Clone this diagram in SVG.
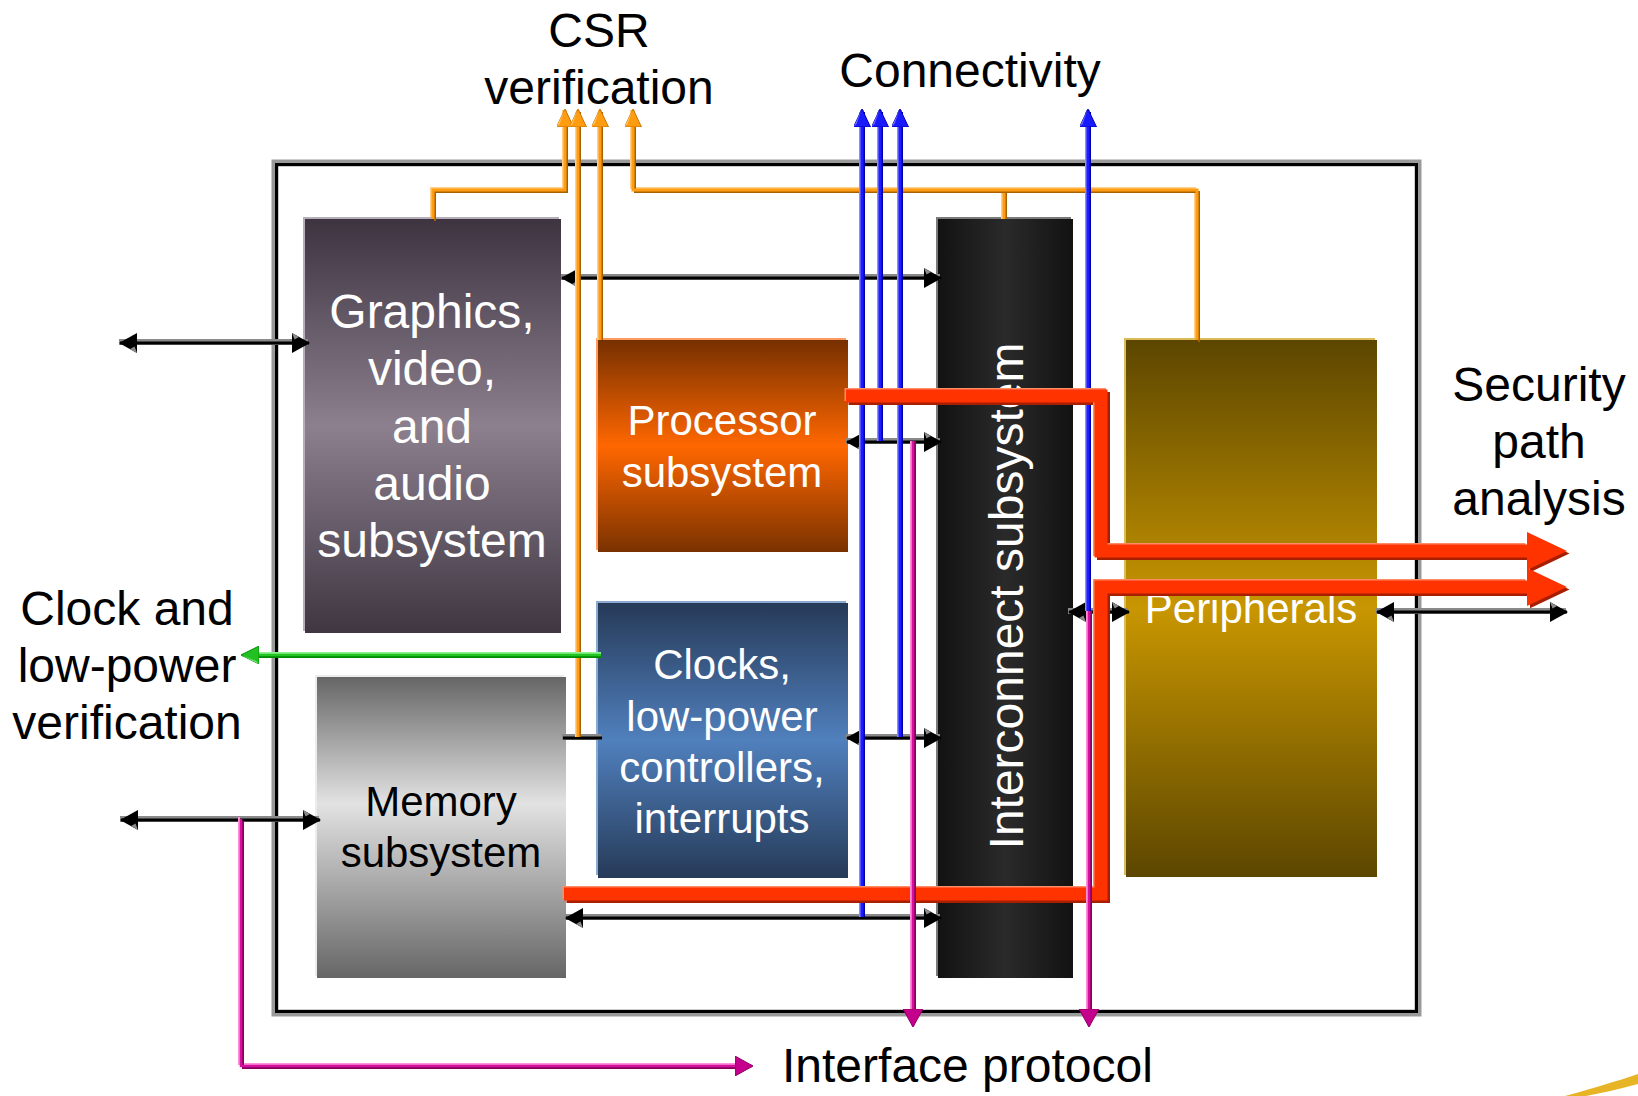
<svg xmlns="http://www.w3.org/2000/svg" width="1638" height="1096" viewBox="0 0 1638 1096">
  <style>
    .lbl { font-family: "Liberation Sans", Arial, sans-serif; font-size: 48px; fill: #000; text-anchor: middle; }
    .w48 { font-family: "Liberation Sans", Arial, sans-serif; font-size: 48px; fill: #fff; text-anchor: middle; }
    .w42 { font-family: "Liberation Sans", Arial, sans-serif; font-size: 42px; fill: #fff; text-anchor: middle; }
    .k42 { font-family: "Liberation Sans", Arial, sans-serif; font-size: 42px; fill: #000; text-anchor: middle; }
    path { fill: none; }
    .blk-a { stroke: #8a8a8a; stroke-width: 6; }
    .blk-b { stroke: #000; stroke-width: 3; }
    .org-h { stroke: #ffd08a; stroke-width: 2; }
    .org-d { stroke: #a66000; stroke-width: 2; }
    .org-m { stroke: #ff9c12; stroke-width: 3; }
    .blu-h { stroke: #8c8cff; stroke-width: 2; }
    .blu-d { stroke: #0000a8; stroke-width: 2; }
    .blu-m { stroke: #1c1cff; stroke-width: 3; }
    .pnk-h { stroke: #ff90dc; stroke-width: 2; }
    .pnk-d { stroke: #880060; stroke-width: 2; }
    .pnk-m { stroke: #d4109c; stroke-width: 2.5; }
    .grn-h { stroke: #8ef08e; stroke-width: 2; }
    .grn-d { stroke: #008a00; stroke-width: 2; }
    .grn-m { stroke: #22c422; stroke-width: 2.5; }
    .red-s { stroke: #a81e00; stroke-width: 13; stroke-linejoin: miter; }
    .red-h { stroke: #ff8a66; stroke-width: 13; stroke-linejoin: miter; }
    .red-m { stroke: #ff3300; stroke-width: 13; stroke-linejoin: miter; }
    .frame-a { fill: none; stroke: #9a9a9a; stroke-width: 7; }
    .frame-b { fill: none; stroke: #000; stroke-width: 3; }
  </style>
  <defs>
    <linearGradient id="gGraphics" x1="0" y1="0" x2="0" y2="1">
      <stop offset="0" stop-color="#3d3440"/>
      <stop offset="0.5" stop-color="#8c7f8e"/>
      <stop offset="1" stop-color="#3f3641"/>
    </linearGradient>
    <linearGradient id="gProc" x1="0" y1="0" x2="0" y2="1">
      <stop offset="0" stop-color="#763000"/>
      <stop offset="0.5" stop-color="#ff6700"/>
      <stop offset="1" stop-color="#7a3200"/>
    </linearGradient>
    <linearGradient id="gClock" x1="0" y1="0" x2="0" y2="1">
      <stop offset="0" stop-color="#263a58"/>
      <stop offset="0.5" stop-color="#5080bd"/>
      <stop offset="1" stop-color="#263a58"/>
    </linearGradient>
    <linearGradient id="gMem" x1="0" y1="0" x2="0" y2="1">
      <stop offset="0" stop-color="#666"/>
      <stop offset="0.42" stop-color="#e2e2e2"/>
      <stop offset="1" stop-color="#666"/>
    </linearGradient>
    <linearGradient id="gIc" x1="0" y1="0" x2="1" y2="0">
      <stop offset="0" stop-color="#121212"/>
      <stop offset="0.5" stop-color="#2a2a2a"/>
      <stop offset="1" stop-color="#121212"/>
    </linearGradient>
    <linearGradient id="gPer" x1="0" y1="0" x2="0" y2="1">
      <stop offset="0" stop-color="#5c4600"/>
      <stop offset="0.5" stop-color="#c89600"/>
      <stop offset="1" stop-color="#5c4600"/>
    </linearGradient>

    <marker id="mBlk" viewBox="0 0 18 20" refX="17" refY="10" markerWidth="18" markerHeight="20" markerUnits="userSpaceOnUse" orient="auto-start-reverse">
      <path d="M0,0 L18,10 L0,20 Z" style="fill:#000;stroke:none"/>
      <path d="M0,0 L7,3.9 L2.5,6.5 Z" style="fill:#8a8a8a;stroke:none"/>
    </marker>
    <marker id="mOrg" viewBox="0 0 18 17" refX="17" refY="8.5" markerWidth="18" markerHeight="17" markerUnits="userSpaceOnUse" orient="auto">
      <path d="M0,0 L18,8.5 L0,17 Z" style="fill:#ff9c10;stroke:#c87400;stroke-width:1"/>
      <path d="M0,0 L18,8.5 L3,3 Z" style="fill:#ffc868;stroke:none"/>
    </marker>
    <marker id="mBlu" viewBox="0 0 18 17" refX="17" refY="8.5" markerWidth="18" markerHeight="17" markerUnits="userSpaceOnUse" orient="auto">
      <path d="M0,0 L18,8.5 L0,17 Z" style="fill:#1a1aff;stroke:#0000b0;stroke-width:1"/>
      <path d="M0,0 L18,8.5 L3,3 Z" style="fill:#7070ff;stroke:none"/>
    </marker>
    <marker id="mPnk" viewBox="0 0 18 20" refX="17" refY="10" markerWidth="18" markerHeight="20" markerUnits="userSpaceOnUse" orient="auto">
      <path d="M0,0 L18,10 L0,20 Z" style="fill:#c4008c;stroke:#90006a;stroke-width:1"/>
    </marker>
    <marker id="mGrn" viewBox="0 0 18 18" refX="17" refY="9" markerWidth="18" markerHeight="18" markerUnits="userSpaceOnUse" orient="auto">
      <path d="M0,0 L18,9 L0,18 Z" style="fill:#22c022;stroke:#009000;stroke-width:1"/>
      <path d="M0,0 L18,9 L3,3 Z" style="fill:#80e880;stroke:none"/>
    </marker>
    <marker id="mRed" viewBox="0 0 40 38" refX="0" refY="19" markerWidth="40" markerHeight="38" markerUnits="userSpaceOnUse" orient="auto">
      <path d="M0,0 L40,19 L0,38 Z" style="fill:#ff3300;stroke:none"/>
    </marker>
    <marker id="mRedS" viewBox="0 0 40 38" refX="0" refY="19" markerWidth="40" markerHeight="38" markerUnits="userSpaceOnUse" orient="auto">
      <path d="M0,0 L40,19 L0,38 Z" style="fill:#a81e00;stroke:none"/>
    </marker>
  </defs>

  <rect width="1638" height="1096" fill="#fff"/>

  <!-- chip boundary -->
  <g id="frame">
    <rect class="frame-a" x="275" y="163" width="1143" height="850"/>
    <rect class="frame-b" x="276.5" y="164.5" width="1140" height="847"/>
  </g>

  <!-- subsystem blocks -->
  <g id="node-graphics">
    <rect x="303" y="217" width="256" height="414" fill="#b5adb7"/>
    <rect x="305" y="219" width="256" height="414" fill="url(#gGraphics)"/>
    <text class="w48" x="432" y="328">Graphics,</text>
    <text class="w48" x="432" y="385">video,</text>
    <text class="w48" x="432" y="443">and</text>
    <text class="w48" x="432" y="500">audio</text>
    <text class="w48" x="432" y="557">subsystem</text>
  </g>

  <g id="node-processor">
    <rect x="596" y="338" width="250" height="212" fill="#ff9a60"/>
    <rect x="598" y="340" width="250" height="212" fill="url(#gProc)"/>
    <text class="w42" x="722" y="435">Processor</text>
    <text class="w42" x="722" y="487">subsystem</text>
  </g>

  <g id="node-clocks">
    <rect x="596" y="601" width="250" height="274" fill="#8aaad0"/>
    <rect x="598" y="603" width="250" height="275" fill="url(#gClock)"/>
    <text class="w42" x="722" y="679">Clocks,</text>
    <text class="w42" x="722" y="731">low-power</text>
    <text class="w42" x="722" y="782">controllers,</text>
    <text class="w42" x="722" y="833">interrupts</text>
  </g>

  <g id="node-memory">
    <rect x="315" y="675" width="249" height="301" fill="#ececec"/>
    <rect x="317" y="677" width="249" height="301" fill="url(#gMem)"/>
    <text class="k42" x="441" y="816">Memory</text>
    <text class="k42" x="441" y="867">subsystem</text>
  </g>

  <g id="node-interconnect">
    <rect x="936" y="217" width="135" height="759" fill="#7a7a7a"/>
    <rect x="938" y="219" width="135" height="759" fill="url(#gIc)"/>
    <text class="w48" transform="translate(1023,596) rotate(-90)">Interconnect subsystem</text>
  </g>

  <g id="node-peripherals">
    <rect x="1124" y="338" width="251" height="537" fill="#dcbc58"/>
    <rect x="1126" y="340" width="251" height="537" fill="url(#gPer)"/>
    <text class="w42" x="1251" y="623">Peripherals</text>
  </g>

  <!-- connectors -->
  <g id="connectors">
    <!-- bus links (double-headed) -->
    <g id="bus-links">
      <path class="blk-a" d="M119,342 H308"/>
      <path class="blk-b" d="M119,342 H308" transform="translate(1,1)" marker-start="url(#mBlk)" marker-end="url(#mBlk)"/>
      <path class="blk-a" d="M561,277 H940"/>
      <path class="blk-b" d="M561,277 H940" transform="translate(1,1)" marker-start="url(#mBlk)" marker-end="url(#mBlk)"/>
      <path class="blk-a" d="M846,441 H940"/>
      <path class="blk-b" d="M846,441 H940" transform="translate(1,1)" marker-start="url(#mBlk)" marker-end="url(#mBlk)"/>
      <path class="blk-a" d="M846,737 H940"/>
      <path class="blk-b" d="M846,737 H940" transform="translate(1,1)" marker-start="url(#mBlk)" marker-end="url(#mBlk)"/>
      <path class="blk-a" d="M565,917 H940"/>
      <path class="blk-b" d="M565,917 H940" transform="translate(1,1)" marker-start="url(#mBlk)" marker-end="url(#mBlk)"/>
      <path class="blk-a" d="M120,819 H319"/>
      <path class="blk-b" d="M120,819 H319" transform="translate(1,1)" marker-start="url(#mBlk)" marker-end="url(#mBlk)"/>
      <path class="blk-a" d="M1068,611 H1128"/>
      <path class="blk-b" d="M1068,611 H1128" transform="translate(1,1)" marker-start="url(#mBlk)" marker-end="url(#mBlk)"/>
      <path class="blk-a" d="M1376,611 H1566"/>
      <path class="blk-b" d="M1376,611 H1566" transform="translate(1,1)" marker-start="url(#mBlk)" marker-end="url(#mBlk)"/>
      <path class="blk-a" d="M562,737 H601"/>
      <path class="blk-b" d="M562,737 H601" transform="translate(1,1)"/>
    </g>

    <!-- CSR verification taps -->
    <g id="csr-taps">
      <path class="org-h" d="M433,219 V190 H565 V112" transform="translate(-2,-2)"/>
      <path class="org-d" d="M433,219 V190 H565 V112" transform="translate(2,2)"/>
      <path class="org-m" d="M433,219 V190 H565 V110" marker-end="url(#mOrg)"/>
      <path class="org-h" d="M578,737 V112" transform="translate(-2,0)"/>
      <path class="org-d" d="M578,737 V112" transform="translate(2,0)"/>
      <path class="org-m" d="M578,737 V110" marker-end="url(#mOrg)"/>
      <path class="org-h" d="M600,340 V112" transform="translate(-2,0)"/>
      <path class="org-d" d="M600,340 V112" transform="translate(2,0)"/>
      <path class="org-m" d="M600,340 V110" marker-end="url(#mOrg)"/>
      <path class="org-h" d="M1004,219 V190" transform="translate(-2,0)"/>
      <path class="org-d" d="M1004,219 V190" transform="translate(2,0)"/>
      <path class="org-m" d="M1004,219 V190"/>
      <path class="org-h" d="M1197,340 V190 H633 V112" transform="translate(-2,-2)"/>
      <path class="org-d" d="M1197,340 V190 H633 V112" transform="translate(2,2)"/>
      <path class="org-m" d="M1197,340 V190 H633 V110" marker-end="url(#mOrg)"/>
    </g>

    <!-- connectivity taps -->
    <g id="connectivity-taps">
      <path class="blu-h" d="M862,917 V112" transform="translate(-2,0)"/>
      <path class="blu-d" d="M862,917 V112" transform="translate(2,0)"/>
      <path class="blu-m" d="M862,917 V110" marker-end="url(#mBlu)"/>
      <path class="blu-h" d="M880,441 V112" transform="translate(-2,0)"/>
      <path class="blu-d" d="M880,441 V112" transform="translate(2,0)"/>
      <path class="blu-m" d="M880,441 V110" marker-end="url(#mBlu)"/>
      <path class="blu-h" d="M900,737 V112" transform="translate(-2,0)"/>
      <path class="blu-d" d="M900,737 V112" transform="translate(2,0)"/>
      <path class="blu-m" d="M900,737 V110" marker-end="url(#mBlu)"/>
      <path class="blu-h" d="M1088,611 V112" transform="translate(-2,0)"/>
      <path class="blu-d" d="M1088,611 V112" transform="translate(2,0)"/>
      <path class="blu-m" d="M1088,611 V110" marker-end="url(#mBlu)"/>
    </g>

    <!-- clock and low-power tap -->
    <g id="clock-tap">
      <path class="grn-h" d="M601,655 H250" transform="translate(0,-2)"/>
      <path class="grn-d" d="M601,655 H250" transform="translate(0,2)"/>
      <path class="grn-m" d="M601,655 H242" marker-end="url(#mGrn)"/>
    </g>

    <!-- security paths -->
    <g id="security-paths">
      <path class="red-s" d="M846,396 H1101 V551 H1527" transform="translate(2.5,2.5)" marker-end="url(#mRedS)"/>
      <path class="red-h" d="M846,396 H1101 V551 H1527" transform="translate(-1.5,-1.5)"/>
      <path class="red-m" d="M846,396 H1101 V551 H1527" marker-end="url(#mRed)"/>
      <path class="red-s" d="M564,894 H1101 V587 H1527" transform="translate(2.5,2.5)" marker-end="url(#mRedS)"/>
      <path class="red-h" d="M564,894 H1101 V587 H1527" transform="translate(-1.5,-1.5)"/>
      <path class="red-m" d="M564,894 H1101 V587 H1527" marker-end="url(#mRed)"/>
    </g>

    <!-- interface protocol taps -->
    <g id="interface-taps">
      <path class="pnk-h" d="M241,819 V1066 H745" transform="translate(-2,-2)"/>
      <path class="pnk-d" d="M241,819 V1066 H745" transform="translate(2,2)"/>
      <path class="pnk-m" d="M241,819 V1066 H752" marker-end="url(#mPnk)"/>
      <path class="pnk-h" d="M913,441 V1018" transform="translate(-2,0)"/>
      <path class="pnk-d" d="M913,441 V1018" transform="translate(2,0)"/>
      <path class="pnk-m" d="M913,441 V1026" marker-end="url(#mPnk)"/>
      <path class="pnk-h" d="M1089,611 V1018" transform="translate(-2,0)"/>
      <path class="pnk-d" d="M1089,611 V1018" transform="translate(2,0)"/>
      <path class="pnk-m" d="M1089,611 V1026" marker-end="url(#mPnk)"/>
    </g>
  </g>

  <!-- verification labels -->
  <g id="label-csr">
    <text class="lbl" x="599" y="47">CSR</text>
    <text class="lbl" x="599" y="104">verification</text>
  </g>
  <g id="label-connectivity">
    <text class="lbl" x="970" y="87">Connectivity</text>
  </g>
  <g id="label-security">
    <text class="lbl" x="1539" y="401">Security</text>
    <text class="lbl" x="1539" y="458">path</text>
    <text class="lbl" x="1539" y="515">analysis</text>
  </g>
  <g id="label-clock">
    <text class="lbl" x="127" y="625">Clock and</text>
    <text class="lbl" x="127" y="682">low-power</text>
    <text class="lbl" x="127" y="739">verification</text>
  </g>
  <g id="label-interface">
    <text class="lbl" x="782" y="1082" style="text-anchor:start">Interface protocol</text>
  </g>

  <!-- corner brush stroke -->
  <path d="M1565,1096 C1588,1090 1606,1084 1620,1080 L1638,1074 L1638,1084 C1620,1089 1602,1093 1586,1096 Z" style="fill:#e6b424;stroke:none"/>
</svg>
